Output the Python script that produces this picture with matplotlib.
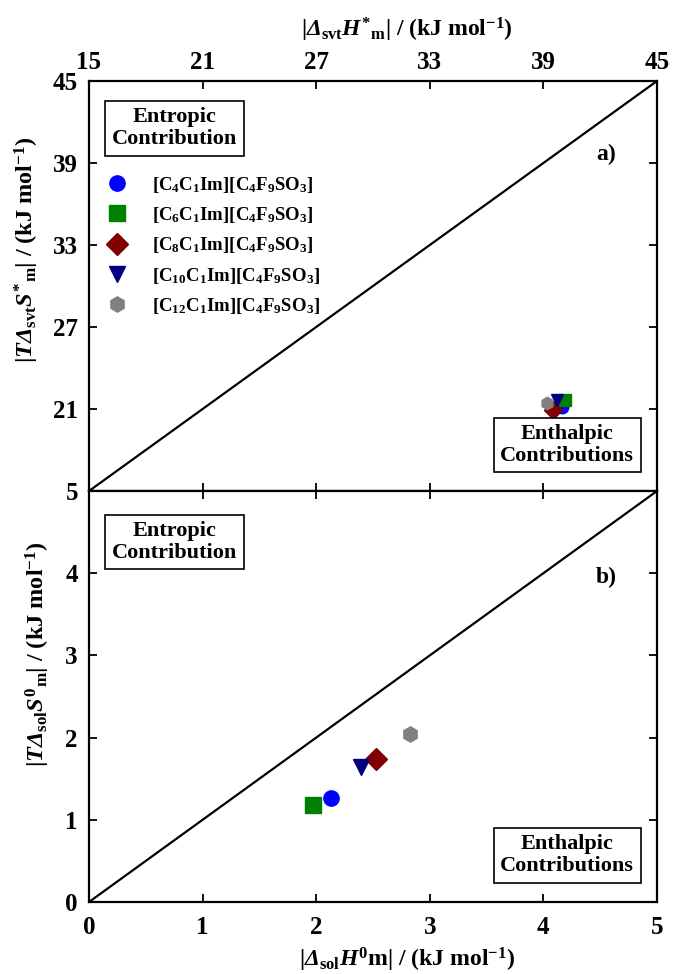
import matplotlib
matplotlib.use("Agg")
import matplotlib.pyplot as plt
from matplotlib.lines import Line2D

plt.rcParams['font.family'] = ['Liberation Serif', 'DejaVu Serif']
plt.rcParams['font.weight'] = 'bold'
plt.rcParams['mathtext.fontset'] = 'custom'
plt.rcParams['mathtext.rm'] = 'Liberation Serif:bold'
plt.rcParams['mathtext.it'] = 'Liberation Serif:italic:bold'
plt.rcParams['mathtext.bf'] = 'Liberation Serif:bold'
plt.rcParams['mathtext.sf'] = 'Liberation Serif:italic:bold'

# ---- data ----
compounds = ["[C$_4$C$_1$Im][C$_4$F$_9$SO$_3$]",
             "[C$_6$C$_1$Im][C$_4$F$_9$SO$_3$]",
             "[C$_8$C$_1$Im][C$_4$F$_9$SO$_3$]",
             "[C$_{10}$C$_1$Im][C$_4$F$_9$SO$_3$]",
             "[C$_{12}$C$_1$Im][C$_4$F$_9$SO$_3$]"]
colors = ['#0000ff', '#008000', '#800000', '#000080', '#808080']
markers = ['o', 's', 'D', 'v', 'h']

# panel a) : |Δsvt H*m| vs |T Δsvt S*m|  (kJ/mol)
svt_H = [40.0, 40.15, 39.5, 39.7, 39.2]
svt_TS = [21.15, 21.65, 20.95, 21.65, 21.45]

# panel b) : |Δsol H0m| vs |T Δsol S0m|  (kJ/mol)
sol_H = [2.13, 1.97, 2.53, 2.39, 2.83]
sol_TS = [1.27, 1.18, 1.74, 1.64, 2.04]

ticks_a = [15, 21, 27, 33, 39, 45]
ticks_b = [0, 1, 2, 3, 4, 5]

W, H = 673, 974
fig = plt.figure(figsize=(W / 100, H / 100), dpi=100)

L, R = 89 / W, 657 / W
axa = fig.add_axes([L, 1 - 491 / H, R - L, (491 - 81) / H])
axb = fig.add_axes([L, 1 - 902 / H, R - L, (902 - 491) / H])

for ax in (axa, axb):
    for s in ax.spines.values():
        s.set_linewidth(1.6)
    ax.tick_params(direction='in', length=6, width=1.3, top=True, right=True,
                   labelsize=18, pad=8)

# ---- panel a ----
axa.plot([15, 45], [15, 45], color='black', lw=1.6, zorder=1)
for x, y, c, m in zip(svt_H, svt_TS, colors, markers):
    axa.plot(x, y, marker=m, color=c, markersize=9, linestyle='none', zorder=3)
axa.set_xlim(15, 45)
axa.set_ylim(15, 45)
axa.set_xticks(ticks_a)
axa.set_yticks(ticks_a)
axa.set_yticklabels([''] + [str(t) for t in ticks_a[1:]])
axa.tick_params(axis='x', labelbottom=False, labeltop=True, pad=5)
axa.xaxis.set_label_position('top')
axa.set_xlabel(r'|$\mathsf{\Delta}_{\mathrm{svt}}H^{*}{}_{\mathrm{m}}$| / (kJ mol$^{\mathrm{-1}}$)',
               fontsize=17, fontweight='bold')
axa.xaxis.set_label_coords(0.56, 1.109)
axa.set_ylabel(r'|$T\mathsf{\Delta}_{\mathrm{svt}}S^{*}{}_{\mathrm{m}}$| / (kJ mol$^{\mathrm{-1}}$)',
               fontsize=17.5, fontweight='bold')
axa.yaxis.set_label_coords(-0.085, 0.588)

box = dict(boxstyle='square,pad=0.3', facecolor='white', edgecolor='black', linewidth=1.2)
axa.text(0.151, 0.885, 'Entropic\nContribution', transform=axa.transAxes,
         ha='center', va='center', fontsize=16, fontweight='bold', bbox=box,
         linespacing=1.1)
axa.text(0.842, 0.112, 'Enthalpic\nContributions', transform=axa.transAxes,
         ha='center', va='center', fontsize=16, fontweight='bold', bbox=box,
         linespacing=1.1)
axa.text(0.91, 0.82, 'a)', transform=axa.transAxes, ha='center', va='center',
         fontsize=17, fontweight='bold')

handles = [Line2D([], [], marker=m, color=c, linestyle='none', markersize=11)
           for c, m in zip(colors, markers)]
axa.legend(handles, compounds, loc='upper left', bbox_to_anchor=(0.019, 0.79),
           frameon=False, fontsize=13.5, handlelength=1.0, handletextpad=1.4,
           labelspacing=0.55, borderaxespad=0)

# ---- panel b ----
axb.plot([0, 5], [0, 5], color='black', lw=1.6, zorder=1)
for x, y, c, m in zip(sol_H, sol_TS, colors, markers):
    axb.plot(x, y, marker=m, color=c, markersize=11, linestyle='none', zorder=3)
axb.set_xlim(0, 5)
axb.set_ylim(0, 5)
axb.set_xticks(ticks_b)
axb.set_yticks(ticks_b)
axb.tick_params(axis='x', pad=10)
axb.set_xlabel(r'|$\mathsf{\Delta}_{\mathrm{sol}}H^{0}\mathrm{m}$| / (kJ mol$^{\mathrm{-1}}$)',
               fontsize=17, fontweight='bold')
axb.xaxis.set_label_coords(0.56, -0.106)
axb.set_ylabel(r'|$T\mathsf{\Delta}_{\mathrm{sol}}S^{0}{}_{\mathrm{m}}$| / (kJ mol$^{\mathrm{-1}}$)',
               fontsize=17.5, fontweight='bold')
axb.yaxis.set_label_coords(-0.065, 0.603)
axb.text(0.151, 0.876, 'Entropic\nContribution', transform=axb.transAxes,
         ha='center', va='center', fontsize=16, fontweight='bold', bbox=box,
         linespacing=1.1)
axb.text(0.842, 0.114, 'Enthalpic\nContributions', transform=axb.transAxes,
         ha='center', va='center', fontsize=16, fontweight='bold', bbox=box,
         linespacing=1.1)
axb.text(0.91, 0.79, 'b)', transform=axb.transAxes, ha='center', va='center',
         fontsize=17, fontweight='bold')

for ax in (axa, axb):
    for lab in ax.get_xticklabels() + ax.get_yticklabels():
        lab.set_fontweight('bold')

fig.savefig('out.png', dpi=100)
